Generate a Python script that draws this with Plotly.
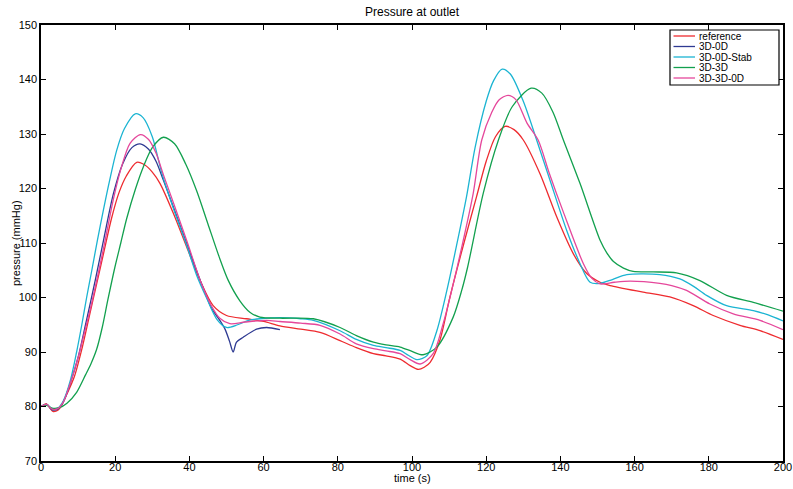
import plotly.graph_objects as go

# ---- data ----
ref_t = [0, 1.5, 2.5, 3.2, 4.2, 5, 7, 9, 11, 13, 15, 17, 19, 21, 23, 25.8, 28, 30, 32.1, 35.7, 39.3, 42.9, 46.4, 50, 55.4, 60, 64.4, 70, 75.2, 80.6, 85, 89.6, 93, 96.8, 99.5, 101.7, 103.3, 104.9, 107.5, 110.2, 113.8, 117.4, 120, 122.5, 125.1, 127.5, 130, 134.5, 139, 143.5, 147.1, 150.7, 153.4, 162.3, 169.5, 175.8, 181.2, 188.4, 193.8, 200]
ref_v = [80, 80.5, 79.6, 79.1, 79.2, 79.6, 82.3, 85.5, 90.5, 96.5, 102.5, 108.5, 114.5, 119.2, 122.3, 124.8, 124.3, 123, 120.9, 115.4, 109.2, 103.1, 98.5, 96.7, 96.1, 95.6, 94.8, 94.2, 93.6, 92.1, 90.8, 89.7, 89.3, 88.7, 87.5, 86.8, 87.2, 88.1, 92.1, 100, 109.5, 118.5, 125, 129.5, 131.4, 130.8, 128.9, 122.7, 114.8, 108, 104.4, 102.8, 102.2, 101, 100.1, 98.5, 96.7, 94.9, 93.9, 92.3]

d0_t = [0, 1.5, 3, 4.5, 6, 8, 10, 12, 14.6, 17, 19.5, 22, 24.5, 26.7, 29, 31, 33, 36, 39.5, 43, 46, 48.2, 49.6, 50.8, 51.8, 52.7, 54.5, 58.1, 60.8, 64.4]
d0_v = [80, 80.4, 79.4, 79.5, 80.8, 84.5, 89, 95, 103.1, 111, 119, 124.5, 127.5, 128.2, 127.2, 125, 121.5, 116, 109.5, 103, 98, 95.8, 94.2, 92, 90.0, 91.8, 92.7, 94.2, 94.5, 94.1]

stab_t = [0, 1.5, 3, 4.5, 6, 8, 9.6, 11, 12.3, 13.7, 15.2, 16.8, 18.5, 20.4, 22.5, 25.4, 27.5, 30, 32.5, 35.6, 39.3, 42, 44.7, 47.4, 50, 53, 56, 59, 64.4, 70, 73.4, 80.6, 85, 89.6, 93, 96.8, 99, 101.3, 104, 106.7, 109.4, 112, 114.7, 117, 120, 122, 124.3, 126.5, 130, 133.6, 137.2, 141.7, 145.3, 148, 150.7, 154, 157.9, 166.8, 172.2, 176, 179.4, 184.8, 192, 196, 200]
stab_v = [80, 80.4, 79.6, 79.7, 81, 85, 90, 95, 100, 105, 110.5, 116, 121.5, 127, 131, 133.7, 133, 129.5, 123, 116.5, 109.5, 104, 99.8, 96, 94.5, 95, 95.8, 96.1, 96.3, 96.1, 95.8, 93.9, 92.3, 91.2, 90.8, 90.3, 89.4, 88.6, 89.3, 93.9, 101.3, 109.5, 118.5, 127.5, 136, 139.8, 141.9, 141, 136, 128.9, 121.5, 112.3, 106.2, 102.8, 102.6, 103.3, 104.2, 104.2, 103.4, 102, 100.4, 98.5, 97.6, 96.8, 95.7]

d33_t = [0, 1.5, 3, 5, 7, 9.6, 12, 13.5, 15, 16.5, 18, 19.9, 21.5, 23.1, 25.5, 27.6, 30, 33, 36, 39, 42, 45, 48, 50.5, 53.6, 56.3, 59, 64.4, 73.4, 80.6, 85, 89.6, 93, 96.8, 100, 103, 106.7, 111.1, 113.4, 115, 119.2, 123.3, 127, 132.1, 135, 138, 140.8, 145.3, 150.7, 152.5, 154.3, 157, 159.6, 165, 171.3, 177.6, 184.8, 192, 200]
d33_v = [80, 80.2, 79.7, 79.8, 80.6, 82.6, 85.8, 87.9, 90.5, 94.5, 99.5, 105.5, 110, 114.5, 120, 124, 127.5, 129.4, 128.2, 124.5, 119.5, 113.5, 107.5, 103.1, 99.4, 97.3, 96.4, 96.2, 96.1, 94.5, 93, 91.8, 91.3, 90.9, 90.1, 89.5, 90.9, 96.4, 101.3, 105.6, 119.1, 128.9, 135, 138.4, 137.5, 134, 128.9, 120.9, 110.5, 108.2, 106.6, 105.4, 104.8, 104.7, 104.5, 103.1, 100.4, 99.1, 97.5]

d330_t = [0, 1.5, 3, 4.5, 6, 8, 10, 11.5, 13.5, 15, 17, 19.5, 21.5, 24, 26.8, 29, 31, 33, 36, 39.5, 43, 46, 48.2, 50.9, 55, 60.8, 64.4, 70, 75.2, 80.6, 85, 89.6, 93, 96.8, 99.5, 102.2, 105.7, 108.4, 110.7, 113.5, 116.5, 118.8, 121.5, 123.5, 125.9, 128, 131, 134, 137, 141, 146.2, 148.5, 150.7, 154.5, 158.8, 166.8, 170, 174, 180.3, 186.6, 193.8, 200]
d330_v = [80, 80.4, 79.5, 79.6, 80.8, 84.5, 89, 93, 98.5, 103.1, 109.5, 118, 123.5, 128.3, 129.9, 129, 126.5, 122.5, 116.8, 110, 103, 98.4, 96.2, 95.2, 95.5, 95.8, 95.6, 95.3, 94.9, 93.3, 91.5, 90.6, 90.2, 89.7, 88.6, 87.8, 89.7, 95.2, 101.3, 109.5, 119.1, 128.9, 134, 136.3, 137.1, 136.3, 132, 128.9, 122.8, 115.3, 106.2, 103.5, 102.5, 102.8, 103, 102.6, 102.2, 101.3, 98.8, 97, 95.8, 94.1]

series_names = ["reference", "3D-0D", "3D-0D-Stab", "3D-3D", "3D-3D-0D"]
series_t = [ref_t, d0_t, stab_t, d33_t, d330_t]
series_v = [ref_v, d0_v, stab_v, d33_v, d330_v]
colors = ["#EE2B2F", "#2E3A92", "#1BB4D2", "#12A04E", "#E5479B"]

x_ticks = [0, 20, 40, 60, 80, 100, 120, 140, 160, 180, 200]
y_ticks = [70, 80, 90, 100, 110, 120, 130, 140, 150]

# ---- layout geometry (pixels) ----
W, H = 793, 489
L, R, T, B = 41, 783, 25, 461
pw, ph = R - L, B - T

def px2x(px):
    return (px - L) / pw

def py2y(py):
    return (B - py) / ph

fig = go.Figure()
for name, t, v, c in zip(series_names, series_t, series_v, colors):
    fig.add_trace(go.Scatter(x=t, y=v, mode="lines", name=name, showlegend=False,
                             line=dict(color=c, width=1.3, shape="spline", smoothing=0.8)))

font_family = "Liberation Sans, Arial, sans-serif"
axis_common = dict(showline=True, linecolor="black", linewidth=1.5, mirror="ticks",
                   ticks="inside", ticklen=5, tickcolor="black", tickwidth=1,
                   showgrid=False, zeroline=False, automargin=False,
                   tickfont=dict(family=font_family, size=11, color="black"))

# custom legend (compact, like the reference)
shapes = [dict(type="rect", xref="paper", yref="paper",
               x0=px2x(670), x1=px2x(779), y0=py2y(85), y1=py2y(30),
               line=dict(color="black", width=1.2), fillcolor="white", layer="above")]
annotations = []
item_y = [36, 46.5, 57, 67.5, 78]
for name, c, iy in zip(series_names, colors, item_y):
    shapes.append(dict(type="line", xref="paper", yref="paper",
                       x0=px2x(673.5), x1=px2x(695), y0=py2y(iy), y1=py2y(iy),
                       line=dict(color=c, width=1.3), layer="above"))
    annotations.append(dict(text=name, xref="paper", yref="paper", x=px2x(696.5), y=py2y(iy),
                            xanchor="left", yanchor="middle", showarrow=False,
                            font=dict(family=font_family, size=10, color="black")))

annotations.append(dict(text="time (s)", xref="paper", yref="paper", x=0.5, y=py2y(478),
                        xanchor="center", yanchor="middle", showarrow=False,
                        font=dict(family=font_family, size=11, color="black")))
annotations.append(dict(text="pressure (mmHg)", xref="paper", yref="paper", x=px2x(16), y=py2y(243),
                        xanchor="center", yanchor="middle", showarrow=False, textangle=-90,
                        font=dict(family=font_family, size=11, color="black")))
annotations.append(dict(text="Pressure at outlet", xref="paper", yref="paper", x=0.5, y=py2y(12),
                        xanchor="center", yanchor="middle", showarrow=False,
                        font=dict(family=font_family, size=12, color="black")))

fig.update_layout(
    width=W, height=H,
    margin=dict(l=L, r=W - R, t=T, b=H - B),
    paper_bgcolor="white", plot_bgcolor="white",
    xaxis=dict(range=[0, 200], tickvals=x_ticks, ticklabelstandoff=-5, **axis_common),
    yaxis=dict(range=[70, 150], tickvals=y_ticks, **axis_common),
    shapes=shapes, annotations=annotations,
    showlegend=False,
)

fig.write_html("out.html", config={"displayModeBar": False},
               post_script="document.body.style.margin='0';document.body.style.overflow='hidden';")
